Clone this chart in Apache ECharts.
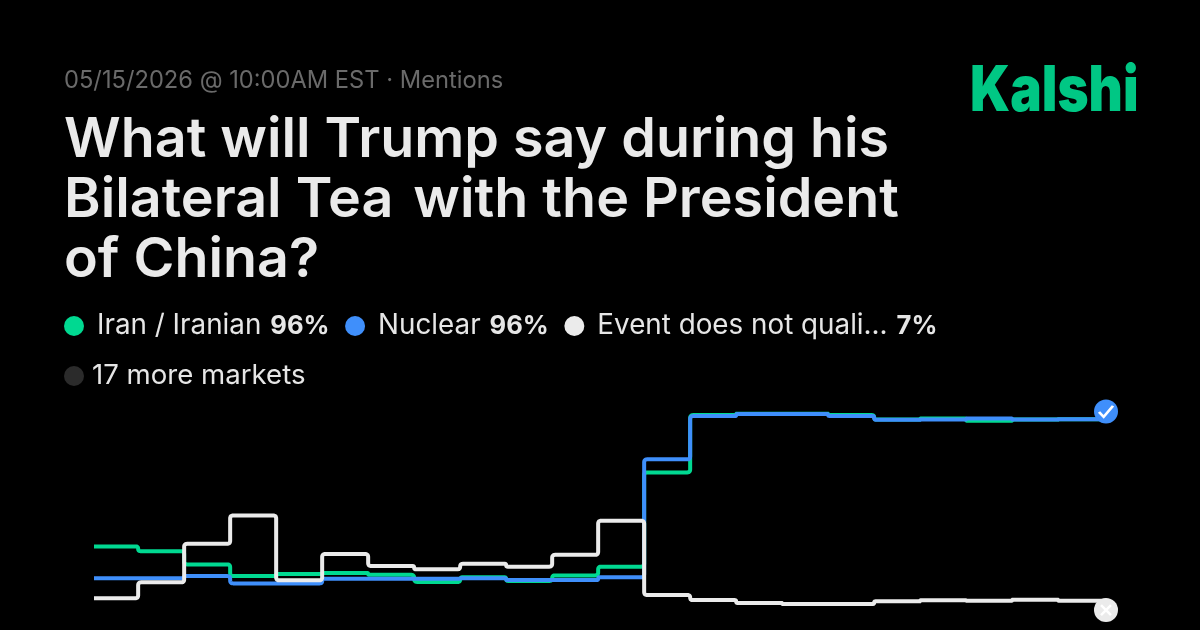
<!DOCTYPE html>
<html>
<head>
<meta charset="utf-8">
<style>html,body{margin:0;padding:0;background:#000}#chart{width:1200px;height:630px}</style>
<script src="https://cdn.jsdelivr.net/npm/echarts@6/dist/echarts.min.js"></script>
</head>
<body>
<div id="chart"></div>
<script>
// Price history per market, in percent, one value per sampling step
const sampleTimes = [0.04,1,2,3,4,5,6,7,8,9,10,11,12,13,14,15,16,17,18,19,20,21,22,22.04];
const iranValues = [33.6,31.3,24.8,19.1,20.1,20.6,19.7,16.2,18.5,16.7,19.4,23.7,69.9,98.0,98.7,98.7,98.0,95.8,96.3,95.2,95.8,96,96,96];
const nuclearValues = [18.0,18.0,19.1,15.5,15.5,17.8,17.8,17.8,18.0,17.1,17.1,18.5,76.3,97.5,98.5,98.5,97.6,95.7,95.8,96.3,95.8,96,96,96];
const eventValues = [8.2,16.0,34.9,48.8,17.0,29.9,24.0,22.4,25.1,23.7,29.5,46.2,9.8,7.3,5.9,5.4,5.4,6.7,7.2,7.0,7.5,7.0,7.0,7.0];
const resolvedYes = [[22.04, 99.8]];
const resolvedNo = [[22.04, 2.4]];

const marketNames = ['Iran / Iranian', 'Nuclear', 'Event does not quali...'];
const marketPrices = ['96%', '96%', '7%'];
const moreMarkets = '17 more markets';
const headingLines = ['What will Trump say during his', 'of China?'];
const headingMiddle = ['Bilateral Tea ', 'with the President'];
const eyebrow = '05/15/2026 @ 10:00AM EST · Mentions';
const brand = 'Kalshi';

const FONT = 'Inter';
const GREEN = '#00D991';
const BLUE = '#3F8FFB';
const WHITE = '#EBEBEB';
const CORNER = 3;

const pairs = vals => sampleTimes.map((t, i) => [t, vals[i]]);

// Appends a softened corner at c, coming from a and leaving towards b
function roundCorner(out, a, c, b) {
  const la = Math.hypot(c[0] - a[0], c[1] - a[1]);
  const lb = Math.hypot(b[0] - c[0], b[1] - c[1]);
  const r = Math.min(CORNER, la / 2, lb / 2);
  if (r < 0.01) { out.push(c); return; }
  const p0 = [c[0] + (a[0] - c[0]) * r / la, c[1] + (a[1] - c[1]) * r / la];
  const p2 = [c[0] + (b[0] - c[0]) * r / lb, c[1] + (b[1] - c[1]) * r / lb];
  for (let k = 0; k <= 6; k++) {
    const t = k / 6, u = 1 - t;
    out.push([
      u * u * p0[0] + 2 * u * t * c[0] + t * t * p2[0],
      u * u * p0[1] + 2 * u * t * c[1] + t * t * p2[1]
    ]);
  }
}

// Step-after line: each value holds until the next sample
const stepLine = (name, vals, color) => ({
  name, type: 'custom', coordinateSystem: 'cartesian2d', clip: true,
  data: pairs(vals), encode: { x: 0, y: 1 }, itemStyle: { color },
  renderItem(params, api) {
    if (params.dataIndex !== vals.length - 1) return null;
    const nodes = pairs(vals).map(d => api.coord(d));
    const corners = [nodes[0]];
    for (let i = 1; i < nodes.length; i++) {
      corners.push([nodes[i][0], nodes[i - 1][1]]);
      corners.push(nodes[i]);
    }
    const points = [corners[0]];
    for (let i = 1; i < corners.length - 1; i++) {
      roundCorner(points, corners[i - 1], corners[i], corners[i + 1]);
    }
    points.push(corners[corners.length - 1]);
    return {
      type: 'polyline', silent: true, shape: { points },
      style: { fill: null, stroke: color, lineWidth: 4, lineJoin: 'round', lineCap: 'round' }
    };
  }
});

const CHECK = 'path://M0 5 L4 9 L12 0';
const CROSS = 'path://M0 0 L10 10 M10 0 L0 10';

const headingStyle = { fontFamily: FONT, fontSize: 55.6, fontWeight: 600, color: '#EAEAEA' };

const chart = echarts.init(document.getElementById('chart'), null, { renderer: 'canvas' });
chart.setOption({
  backgroundColor: '#000',
  animation: false,
  grid: { left: 94, top: 411, width: 1012, height: 204 },
  xAxis: { type: 'value', min: 0.04, max: 22.04, show: false },
  yAxis: { type: 'value', min: 0, max: 100, show: false },
  title: [
    { text: eyebrow, left: 64, top: 69, padding: 0, textStyle: { fontFamily: FONT, fontSize: 23.7, fontWeight: 400, color: '#6A6A6A' } },
    { text: headingLines[0], left: 64, top: 112, padding: 0, textStyle: headingStyle },
    {
      text: `{a|${headingMiddle[0]}}{b|${headingMiddle[1]}}`, left: 64, top: 172, padding: 0,
      textStyle: {
        rich: {
          a: headingStyle,
          b: Object.assign({}, headingStyle, { padding: [0, 0, 0, 6] })
        }
      }
    },
    { text: headingLines[1], left: 64, top: 232, padding: 0, textStyle: headingStyle }
  ],
  graphic: [
    { type: 'text', x: 970, y: 61, scaleX: 0.84, style: { text: brand, fontFamily: FONT, fontSize: 63, fontWeight: 900, fill: '#00C784' } }
  ],
  legend: [
    {
      left: 64, top: 312, padding: 0, icon: 'circle', itemWidth: 20, itemHeight: 20, itemGap: 15.5,
      selectedMode: false, data: marketNames,
      formatter: name => `{n|${name}}{b|${marketPrices[marketNames.indexOf(name)]}}`,
      textStyle: {
        rich: {
          n: { fontFamily: FONT, fontSize: 27.8, color: '#E6E6E6', padding: [0, 9, 0, 8] },
          b: { fontFamily: FONT, fontSize: 25.6, fontWeight: 700, color: '#E6E6E6' }
        }
      }
    },
    {
      left: 64, top: 362, padding: 0, icon: 'circle', itemWidth: 20, itemHeight: 20,
      selectedMode: false, data: [moreMarkets],
      textStyle: { fontFamily: FONT, fontSize: 27.6, color: '#E6E6E6', padding: [0, 0, 0, 3] }
    }
  ],
  series: [
    stepLine(marketNames[0], iranValues, GREEN),
    stepLine(marketNames[1], nuclearValues, BLUE),
    stepLine(marketNames[2], eventValues, WHITE),
    { name: moreMarkets, type: 'line', data: [], itemStyle: { color: '#2B2B2B' }, lineStyle: { color: '#2B2B2B' } },
    { type: 'scatter', data: resolvedYes, symbol: 'circle', symbolSize: 24, clip: false, z: 5, itemStyle: { color: BLUE, opacity: 1 } },
    { type: 'scatter', data: resolvedYes, symbol: CHECK, symbolSize: [14, 11], clip: false, z: 6,
      itemStyle: { color: 'transparent', borderColor: '#fff', borderWidth: 2.5, opacity: 1 } },
    { type: 'scatter', data: resolvedNo, symbol: 'circle', symbolSize: 24, clip: false, z: 5, itemStyle: { color: WHITE, opacity: 1 } },
    { type: 'scatter', data: resolvedNo, symbol: CROSS, symbolSize: 10, clip: false, z: 6,
      itemStyle: { color: 'transparent', borderColor: '#fff', borderWidth: 2.5, opacity: 1 } }
  ]
});
</script>
</body>
</html>
